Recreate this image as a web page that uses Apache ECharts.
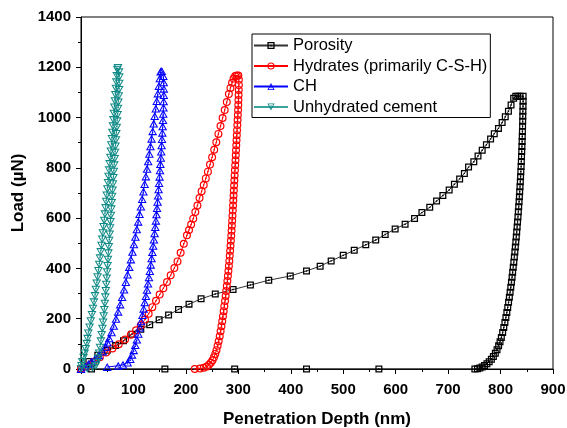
<!DOCTYPE html>
<html><head><meta charset="utf-8">
<script src="https://cdn.jsdelivr.net/npm/echarts@6/dist/echarts.min.js"></script>
<style>html,body{margin:0;padding:0;background:#fff}#c{width:567px;height:428px}</style>
</head><body><div id="c"></div>
<script>
// ---- data ----
const seriesNames = ['Porosity', 'Hydrates (primarily C-S-H)', 'CH', 'Unhydrated cement'];

const porosityDepth = [0,15,32,50,66,81,97,114,131,149,167,186,206,229,256,290,323,358,399,430,456,477,500,521,543,562,580,599,618,636,650,665,678,690,702,712,722,731,739,749,757,765,773,781,788,796,803,809,815,820,825,829,833,837,
 843,843,842.8,842.6,842.4,842.2,842,841.7,841.4,841.1,840.8,840.4,840,839.6,839.2,838.7,838.2,837.7,837.1,836.5,835.9,835.3,834.6,833.9,833.2,832.4,831.6,830.8,830,829.1,828.2,827.3,826.3,825.3,824.2,823.1,822,820.8,819.5,818.2,816.8,815.3,813.7,812,810.2,808.3,806.2,804,801.5,799,796.3,793.3,790,786.3,782.5,778.3,774,769.5,765,760.5,756,751,
 568,430,293,160,20];
const porosityLoad = [0,30,55,75,93,112,138,158,176,196,215,237,258,279,298,316,334,353,370,390,409,430,452,472,494,513,535,557,576,599,622,643,668,690,712,735,756,778,803,824,847,870,892,915,936,957,980,1003,1025,1050,1077,1085,1085,1085,
 1085,1065,1045,1025,1005,985,965,945,925,905,885,865,845,825,805,785,765,745,725,705,685,665,645,625,605,585,565,545,525,505,485,465,445,425,405,385,365,345,325,305,285,265,245,225,205,185,165,145,125,108,92,77,63,50,39,29,21,14,8,4,1,0,
 0,0,0,0,0];

const hydratesDepth = [0,12,24,36,48,60,72,84,95,105,114,122,129,136,143,150,157,164,171,178,184,190,196,202,206,210,214,218,222,226,230,234,238,242,246,250,254,258,262,266,270,274,278,282,285,288,291,294,297,300,
 301,301,300.8,300.5,300.2,299.9,299.5,299.1,298.6,298.1,297.6,297.1,296.6,296.1,295.6,295.1,294.6,294,293.5,292.9,292.4,291.9,291.4,290.9,290.4,289.9,289.4,288.8,288.2,287.7,287.1,286.5,285.8,285.1,284.4,283.6,282.8,282,281.1,280.1,279.1,278,276.9,275.8,274.6,273.3,272,270.7,269.3,267.8,266.2,264.5,262.5,260.5,258.3,256,253.5,250.8,247.5,244,240,234,227,217];
const hydratesLoad = [0,10,28,47,66,82,98,117,136,154,174,197,220,246,271,296,321,346,373,402,428,462,498,532,553,575,598,624,650,680,707,732,758,785,813,842,872,902,935,966,998,1030,1062,1094,1118,1138,1155,1165,1167,1167,
 1150,1130,1110,1090,1070,1050,1030,1010,990,970,950,930,910,890,870,850,830,810,790,770,750,730,710,690,670,650,630,610,590,570,550,530,510,490,470,450,430,410,390,370,350,330,310,290,270,250,230,210,190,170,150,130,110,92,75,60,47,35,25,17,10,5,2,0];

const chDepth = [0,8,14,20,27,34,41.5,47,50.5,53.8,58.2,62.5,66.8,70.8,74.7,78.4,82.1,85.5,88.8,92,95.1,98.1,100.9,103.7,106.4,109.1,111.6,114.2,116.6,119,121.3,123.7,125.9,128.1,130.3,132.4,134.5,136.6,138.6,140.6,142.6,144.5,146.5,148.4,150.2,151.8,154,
 157,157.8,158,157.9,157.6,157.2,156.8,156.3,155.7,155.1,154.4,153.7,153,152.2,151.4,150.6,149.8,148.9,148,147,146,145,143.9,142.8,141.6,140.3,139,137.6,136.1,134.6,133,131.3,129.6,127.8,125.8,123.8,121.6,119.4,117.1,114.6,112,109.3,106.5,103.5,100.5,97.3,94,89,80,71,50];
const chLoad = [0,10,20,30,42,55,70,88,105,122,146,172,200,228,257,286,316,346,376,406,436,466,496,526,556,586,616,646,676,706,736,766,796,826,856,886,916,946,976,1006,1036,1066,1096,1126,1156,1183,1185,
 1165,1140,1115,1090,1065,1040,1015,990,965,940,915,890,865,840,815,790,765,740,715,690,665,640,615,590,565,540,515,490,465,440,415,390,365,340,315,290,265,240,215,190,165,140,117,95,75,57,40,26,17,13,8];

const cementDepth = [0,1,2.5,5,7,9,11,12.6,14,16.4,18.7,20.8,22.8,24.8,26.6,28.3,30,31.6,33.2,34.7,36.2,37.6,39.1,40.4,41.7,43,44.3,45.6,46.8,47.9,49.1,50.3,51.4,52.5,53.6,54.7,55.8,56.8,57.8,58.9,59.8,60.8,61.8,62.8,63.7,64.7,65.6,66.5,67.4,68.3,69.2,70.5,
 72.5,73,73,72.6,72,71.3,70.6,69.8,69,68.2,67.4,66.6,65.8,65,64.2,63.4,62.6,61.8,61,60.2,59.4,58.6,57.8,57,56.2,55.4,54.6,53.8,53,52.2,51.4,50.6,49.8,49,48.2,47.3,46.4,45.4,44.4,43.3,42.1,40.8,39.4,37.9,36.2,34.5,32.8,30.8,28,22,12];
const cementLoad = [0,12,28,45,62,80,100,120,141,165,190,215,240,265,290,315,340,365,390,415,440,465,490,515,540,565,590,615,640,665,690,715,740,765,790,815,840,865,890,915,940,965,990,1015,1040,1065,1090,1115,1140,1165,1190,1197,
 1180,1160,1135,1110,1085,1060,1035,1010,985,960,935,910,885,860,835,810,785,760,735,710,685,660,635,610,585,560,535,510,485,460,435,410,385,360,335,310,285,260,235,210,185,160,135,110,85,62,42,25,12,5,1];

const xAxisRange = [0, 900, 100];
const yAxisRange = [0, 1400, 200];

// ---- styling ----
const SYM_SQUARE = 'path://M0,0 L10,0 L10,10 L0,10 Z M1.8,1.8 L1.8,8.2 L8.2,8.2 L8.2,1.8 Z M4,4 L6,4 L6,6 L4,6 Z';
const SYM_CIRCLE = 'path://M5,0 A5,5 0 1,1 5,10 A5,5 0 1,1 5,0 Z M5,1.5 A3.5,3.5 0 1,0 5,8.5 A3.5,3.5 0 1,0 5,1.5 Z M5,4 A1,1 0 1,1 5,6 A1,1 0 1,1 5,4 Z';
const SYM_TRI_UP = 'path://M5,0 L10,9 L0,9 Z M5,2.6 L1.9,7.8 L8.1,7.8 Z M4.3,5.3 L5.7,5.3 L5.7,6.7 L4.3,6.7 Z';
const SYM_TRI_DOWN = 'path://M0,0 L10,0 L5,9 Z M1.9,1.2 L5,6.4 L8.1,1.2 Z M4.3,2.3 L5.7,2.3 L5.7,3.7 L4.3,3.7 Z';

function zip(a, b) { return a.map((v, i) => [v, b[i]]); }

const font = "'Liberation Sans', Arial, Helvetica, sans-serif";
function mkSeries(name, depth, load, color, lineColor, symbol, size) {
  return {
    type: 'line', name: name, data: zip(depth, load),
    symbol: symbol, symbolSize: size, showAllSymbol: true,
    lineStyle: { color: lineColor, width: 1 },
    itemStyle: { color: color },
    emphasis: { disabled: true },
    animation: false
  };
}

const axisCommon = {
  type: 'value',
  axisLine: { show: true, onZero: false, lineStyle: { color: '#000', width: 1 } },
  axisTick: { show: true, inside: false, length: 5, lineStyle: { color: '#000', width: 1 } },
  minorTick: { show: true, splitNumber: 2, length: 3, lineStyle: { color: '#000', width: 1 } },
  splitLine: { show: false },
  nameLocation: 'middle',
  nameTextStyle: { color: '#000', fontWeight: 'bold', fontSize: 17, fontFamily: font }
};

const chart = echarts.init(document.getElementById('c'), null, { renderer: 'canvas' });
chart.setOption({
  animation: false,
  backgroundColor: '#fff',
  grid: { left: 81, right: 14, top: 17, bottom: 59, show: true, borderColor: '#000', borderWidth: 1, containLabel: false, outerBoundsMode: 'none' },
  legend: {
    data: seriesNames, orient: 'vertical', left: 252, top: 34,
    padding: [3, 3, 2, 1], itemWidth: 34, itemHeight: 9, itemGap: 3.5,
    backgroundColor: '#fff', borderColor: '#000', borderWidth: 1, borderRadius: 0,
    textStyle: { fontSize: 16.5, color: '#000', fontFamily: font, lineHeight: 17 }
  },
  xAxis: Object.assign({}, axisCommon, {
    min: xAxisRange[0], max: xAxisRange[1], interval: xAxisRange[2],
    name: 'Penetration Depth (nm)', nameGap: 42,
    axisLabel: { color: '#000', fontWeight: 'bold', fontSize: 15, fontFamily: font, margin: 13, formatter: v => String(v) }
  }),
  yAxis: Object.assign({}, axisCommon, {
    min: yAxisRange[0], max: yAxisRange[1], interval: yAxisRange[2],
    name: 'Load (µN)', nameGap: 52, nameRotate: 90,
    axisLabel: { color: '#000', fontWeight: 'bold', fontSize: 15, fontFamily: font, margin: 10, formatter: v => String(v) }
  }),
  series: [
    mkSeries(seriesNames[0], porosityDepth, porosityLoad, '#000000', '#333333', SYM_SQUARE, 7),
    mkSeries(seriesNames[1], hydratesDepth, hydratesLoad, '#ff0000', '#ff0000', SYM_CIRCLE, 8),
    mkSeries(seriesNames[2], chDepth, chLoad, '#0000ff', '#0000ff', SYM_TRI_UP, [9, 8]),
    mkSeries(seriesNames[3], cementDepth, cementLoad, '#108a86', '#3aa39e', SYM_TRI_DOWN, [9, 8])
  ]
});
</script>
</body></html>
